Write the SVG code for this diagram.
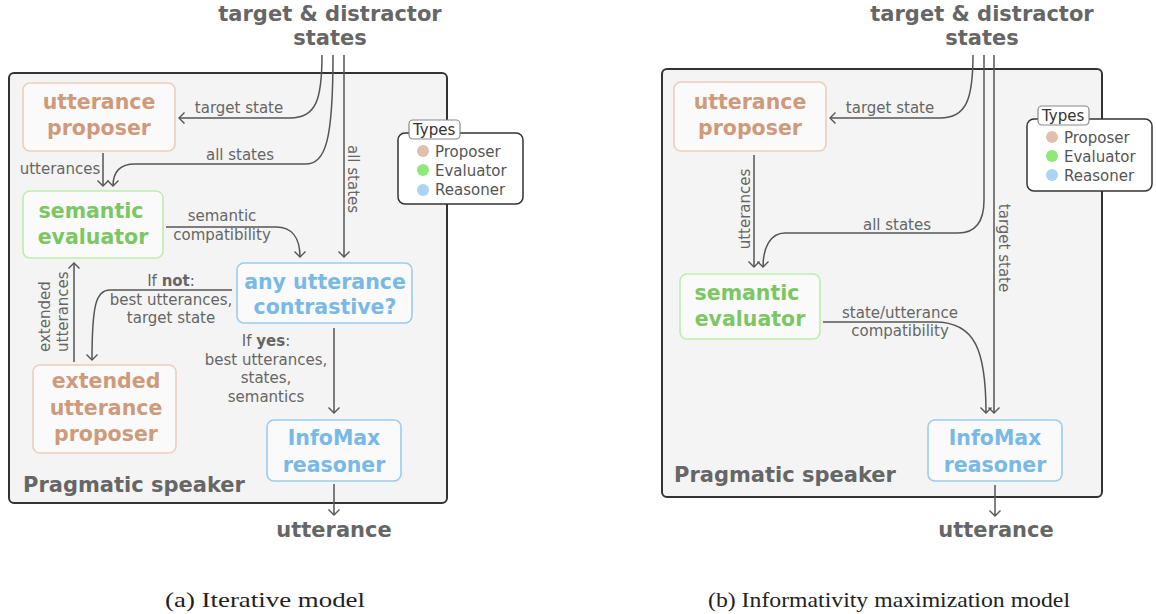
<svg xmlns="http://www.w3.org/2000/svg" width="1156" height="614" viewBox="0 0 1156 614">
<defs>
<marker id="ah" viewBox="-7 -7 10 14" markerWidth="10" markerHeight="14" refX="0" refY="0" orient="auto" markerUnits="userSpaceOnUse">
<path d="M-5.5,-5.5 L0,0 L-5.5,5.5" fill="none" stroke="#555" stroke-width="1.4"/>
</marker>
</defs>
<style>
text{font-family:"DejaVu Sans","Verdana",sans-serif;}
.title{font-size:21px;font-weight:bold;fill:#666;text-anchor:middle;}
.ps{font-size:21px;font-weight:bold;fill:#666;}
.nt{font-size:20.5px;font-weight:bold;text-anchor:middle;}
.lb{font-size:15px;fill:#666;text-anchor:middle;}
.lg{font-size:15px;fill:#555;}
.cap{font-family:"Liberation Serif","Times New Roman",serif;font-size:21px;fill:#222;text-anchor:middle;}
.outer{fill:#f4f4f4;stroke:#333;stroke-width:2;}
.node{fill:#fafafa;stroke-width:1.6;}
.pro rect{stroke:#e9cfbf;} .pro text{fill:#cf9a7b;}
.eva rect{stroke:#bdeeab;} .eva text{fill:#7cc763;}
.rea rect{stroke:#9bcbee;} .rea text{fill:#79b9e6;}
.conn path{fill:none;stroke:#555;stroke-width:1.5;}
.arr{marker-end:url(#ah);}
.legbox{fill:#fff;stroke:#333;stroke-width:1.5;}
.legtab{fill:#fff;stroke:#888;stroke-width:1.2;}
</style>

<!-- ===== Panel (a) ===== -->
<g id="a-frame">
<rect class="outer" x="9" y="73" width="438" height="430" rx="5"/>
<text class="ps" x="23" y="492">Pragmatic speaker</text>
</g>
<g id="a-input">
<text class="title" x="330" y="21">target &amp; distractor</text>
<text class="title" x="330" y="45">states</text>
</g>
<g id="a-output"><text class="title" x="334" y="537">utterance</text></g>

<g id="a-conn" class="conn">
<path class="arr" d="M322,55 C322,100 316,118 290,118 L179,118"/>
<path class="arr" d="M333,55 C333,140 326,164 305,164 L135,164 C120,164 113,172 113,186"/>
<path class="arr" d="M344,55 L344,257"/>
<path class="arr" d="M103,153 L103,186"/>
<path class="arr" d="M166,227 L276,227 C292,227 300,238 300,257"/>
<path class="arr" d="M232,290 L110,290 C96,290 92,305 92,360"/>
<path class="arr" d="M74,362 L74,263"/>
<path class="arr" d="M334,328 L334,413"/>
<path class="arr" d="M334,484 L334,515"/>
</g>
<g id="a-labels">
<text class="lb" x="239" y="113">target state</text>
<text class="lb" x="60" y="174">utterances</text>
<text class="lb" x="240" y="160">all states</text>
<text class="lb" transform="translate(348,179) rotate(90)">all states</text>
<text class="lb" x="222" y="221">semantic</text>
<text class="lb" x="222" y="240">compatibility</text>
<text class="lb" x="171" y="286">If <tspan font-weight="bold">not</tspan>:</text>
<text class="lb" x="171" y="305">best utterances,</text>
<text class="lb" x="171" y="323">target state</text>
<text class="lb" style="text-anchor:start" transform="translate(50,352) rotate(-90)">extended</text>
<text class="lb" style="text-anchor:start" transform="translate(68,352) rotate(-90)">utterances</text>
<text class="lb" x="266" y="346">If <tspan font-weight="bold">yes</tspan>:</text>
<text class="lb" x="266" y="365">best utterances,</text>
<text class="lb" x="266" y="383">states,</text>
<text class="lb" x="266" y="402">semantics</text>
</g>

<g id="a-utterance-proposer" class="pro">
<rect class="node" x="23" y="83" width="152" height="68" rx="7"/>
<text class="nt" x="99" y="109">utterance</text>
<text class="nt" x="99" y="135">proposer</text>
</g>
<g id="a-semantic-evaluator" class="eva">
<rect class="node" x="23" y="191" width="140" height="67" rx="7"/>
<text class="nt" x="91" y="218">semantic</text>
<text class="nt" x="93" y="244">evaluator</text>
</g>
<g id="a-any-utterance" class="rea">
<rect class="node" x="237" y="263" width="175" height="60" rx="7"/>
<text class="nt" x="325" y="289">any utterance</text>
<text class="nt" x="325" y="314">contrastive?</text>
</g>
<g id="a-extended-proposer" class="pro">
<rect class="node" x="33" y="365" width="143" height="88" rx="7"/>
<text class="nt" x="106" y="388">extended</text>
<text class="nt" x="106" y="415">utterance</text>
<text class="nt" x="106" y="441">proposer</text>
</g>
<g id="a-infomax" class="rea">
<rect class="node" x="267" y="420" width="134" height="61" rx="7"/>
<text class="nt" x="334" y="445">InfoMax</text>
<text class="nt" x="334" y="472">reasoner</text>
</g>
<g id="a-legend">
<rect class="legbox" x="398" y="133" width="125" height="71" rx="7"/>
<rect class="legtab" x="409" y="120" width="51" height="19" rx="4"/>
<text class="lg" x="413" y="135" fill="#333" style="fill:#333">Types</text>
<circle cx="423" cy="151" r="6" fill="#e0bfae"/>
<circle cx="423" cy="170" r="6" fill="#90e87a"/>
<circle cx="423" cy="190" r="6" fill="#a9d4f4"/>
<text class="lg" x="435" y="157">Proposer</text>
<text class="lg" x="435" y="176">Evaluator</text>
<text class="lg" x="435" y="195">Reasoner</text>
</g>
<text class="cap" x="265" y="607" textLength="200" lengthAdjust="spacingAndGlyphs">(a) Iterative model</text>

<!-- ===== Panel (b) ===== -->
<g id="b-frame">
<rect class="outer" x="662" y="69" width="440" height="428" rx="5"/>
<text class="ps" x="674" y="482">Pragmatic speaker</text>
</g>
<g id="b-input">
<text class="title" x="982" y="21">target &amp; distractor</text>
<text class="title" x="982" y="45">states</text>
</g>
<g id="b-output"><text class="title" x="996" y="537">utterance</text></g>

<g id="b-conn" class="conn">
<path class="arr" d="M973,55 C973,100 966,118 940,118 L830,118"/>
<path class="arr" d="M984,55 L984,200 C984,222 976,233 958,233 L785,233 C770,233 763,248 763,267"/>
<path class="arr" d="M994,55 L994,413"/>
<path class="arr" d="M754,155 L754,267"/>
<path class="arr" d="M823,322 L935,322 C975,322 986,350 986,413"/>
<path class="arr" d="M995,485 L995,516"/>
</g>
<g id="b-labels">
<text class="lb" x="890" y="113">target state</text>
<text class="lb" x="897" y="230">all states</text>
<text class="lb" transform="translate(750,209) rotate(-90)">utterances</text>
<text class="lb" transform="translate(999,248) rotate(90)">target state</text>
<text class="lb" x="900" y="318">state/utterance</text>
<text class="lb" x="900" y="336">compatibility</text>
</g>

<g id="b-utterance-proposer" class="pro">
<rect class="node" x="674" y="82" width="152" height="69" rx="7"/>
<text class="nt" x="750" y="109">utterance</text>
<text class="nt" x="750" y="135">proposer</text>
</g>
<g id="b-semantic-evaluator" class="eva">
<rect class="node" x="680" y="274" width="140" height="65" rx="7"/>
<text class="nt" x="747" y="300">semantic</text>
<text class="nt" x="750" y="326">evaluator</text>
</g>
<g id="b-infomax" class="rea">
<rect class="node" x="928" y="420" width="134" height="61" rx="7"/>
<text class="nt" x="995" y="445">InfoMax</text>
<text class="nt" x="995" y="472">reasoner</text>
</g>
<g id="b-legend">
<rect class="legbox" x="1027" y="119" width="125" height="72" rx="7"/>
<rect class="legtab" x="1038" y="106" width="51" height="19" rx="4"/>
<text class="lg" x="1042" y="121" style="fill:#333">Types</text>
<circle cx="1052" cy="137" r="6" fill="#e0bfae"/>
<circle cx="1052" cy="156" r="6" fill="#90e87a"/>
<circle cx="1052" cy="175" r="6" fill="#a9d4f4"/>
<text class="lg" x="1064" y="143">Proposer</text>
<text class="lg" x="1064" y="162">Evaluator</text>
<text class="lg" x="1064" y="181">Reasoner</text>
</g>
<text class="cap" x="889" y="607" textLength="362" lengthAdjust="spacingAndGlyphs">(b) Informativity maximization model</text>
</svg>
